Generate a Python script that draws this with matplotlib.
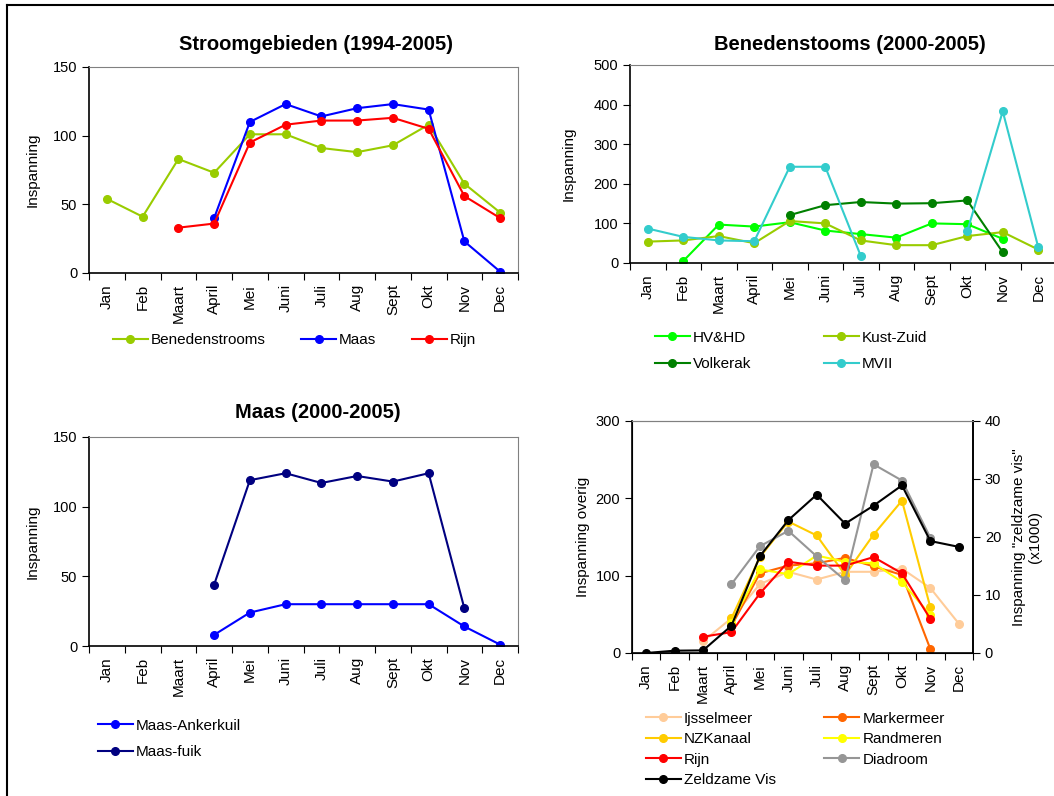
import numpy as np
import matplotlib
matplotlib.use("Agg")
import matplotlib.pyplot as plt
from matplotlib.lines import Line2D

plt.rcParams['font.family'] = ['Liberation Sans', 'DejaVu Sans']
plt.rcParams['font.size'] = 10

nan = np.nan
months = ['Jan', 'Feb', 'Maart', 'April', 'Mei', 'Juni', 'Juli', 'Aug', 'Sept', 'Okt', 'Nov', 'Dec']

# Stroomgebieden (1994-2005)
benedenstrooms = [54, 41, 83, 73, 101, 101, 91, 88, 93, 108, 65, 44]
maas = [nan, nan, nan, 40, 110, 123, 114, 120, 123, 119, 23, 1]
rijn = [nan, nan, 33, 36, 95, 108, 111, 111, 113, 105, 56, 40]

# Benedenstooms (2000-2005)
hvhd = [nan, 5, 97, 92, 103, 82, 73, 64, 100, 98, 61, nan]
kust_zuid = [54, 57, 68, 50, 106, 100, 57, 45, 45, 68, 78, 34]
volkerak = [nan, nan, nan, nan, 121, 146, 154, 150, 151, 158, 27, nan]
mvii = [87, 66, 57, 55, 243, 243, 18, nan, nan, 80, 383, 40]

# Maas (2000-2005)
maas_ankerkuil = [nan, nan, nan, 8, 24, 30, 30, 30, 30, 30, 14, 1]
maas_fuik = [nan, nan, nan, 44, 119, 124, 117, 122, 118, 124, 27, nan]

# overig
ijsselmeer = [nan, nan, 15, 45, 89, 105, 95, 105, 105, 109, 84, 38]
markermeer = [nan, nan, nan, 35, 103, 113, 116, 123, 112, 101, 5, nan]
nzkanaal = [nan, nan, nan, 45, 124, 170, 152, 101, 153, 197, 59, nan]
randmeren = [nan, nan, nan, 39, 108, 102, 126, 118, 116, 92, 49, nan]
rijn2 = [nan, nan, 21, 27, 77, 118, 113, 113, 124, 103, 44, nan]
diadroom = [nan, nan, nan, 89, 138, 158, 125, 94, 244, 223, 149, nan]
zeldzame = [0, 0.4, 0.45, 4.7, 16.7, 22.9, 27.3, 22.3, 25.4, 28.9, 19.3, 18.3]

W, H = 1054, 796
fig = plt.figure(figsize=(W / 100, H / 100), dpi=100)


def box(l, t, r, b):
    return [l / W, 1 - b / H, (r - l) / W, (b - t) / H]


def fx(px):
    return px / W


def fy(py):
    return 1 - py / H


def style(ax, ymax, ystep):
    x = np.arange(12)
    ax.set_xlim(-0.5, 11.5)
    ax.set_ylim(0, ymax)
    ax.set_yticks(np.arange(0, ymax + 1, ystep))
    ax.set_xticks(np.arange(-0.5, 12, 1))
    ax.set_xticklabels([])
    ax.set_xticks(x, minor=True)
    ax.set_xticklabels(months, minor=True, rotation=90, fontsize=11)
    ax.tick_params(axis='x', which='major', length=5, direction='out', width=0.8)
    ax.tick_params(axis='x', which='minor', length=0, pad=8)
    ax.tick_params(axis='y', length=5, width=0.8, labelsize=10.5)
    for s in ['top', 'right']:
        ax.spines[s].set_color('#808080')
    for s in ['left', 'bottom']:
        ax.spines[s].set_linewidth(1.2)


def line(ax, y, c, label):
    return ax.plot(np.arange(12), y, '-o', color=c, lw=1.5, ms=5.5, label=label)[0]


leg_kw = dict(frameon=False, fontsize=11, handlelength=2.3, handletextpad=0.2)
title_kw = dict(fontsize=14.5, fontweight='bold', ha='center', va='center')

# panel 1
ax1 = fig.add_axes(box(89, 67, 518, 273))
style(ax1, 150, 50)
h = [line(ax1, benedenstrooms, '#99CC00', 'Benedenstrooms'),
     line(ax1, maas, '#0000FF', 'Maas'),
     line(ax1, rijn, '#FF0000', 'Rijn')]
ax1.set_ylabel('Inspanning', fontsize=11, labelpad=9)
fig.text(fx(316), fy(44), 'Stroomgebieden (1994-2005)', **title_kw)
fig.legend(handles=h, ncol=3, loc='center left', bbox_to_anchor=(fx(99), fy(340)),
           columnspacing=2.3, **leg_kw)

# panel 2
ax2 = fig.add_axes(box(630, 65, 1056, 263))
style(ax2, 500, 100)
l_hv = line(ax2, hvhd, '#00FF00', 'HV&HD')
l_kz = line(ax2, kust_zuid, '#99CC00', 'Kust-Zuid')
l_vk = line(ax2, volkerak, '#008000', 'Volkerak')
l_mv = line(ax2, mvii, '#33CCCC', 'MVII')
ax2.set_ylabel('Inspanning', fontsize=11, labelpad=13)
fig.text(fx(850), fy(44), 'Benedenstooms (2000-2005)', **title_kw)
fig.legend(handles=[l_hv, l_vk, l_kz, l_mv], ncol=2, loc='center left',
           bbox_to_anchor=(fx(641), fy(351)), columnspacing=4.75, labelspacing=0.85, **leg_kw)

# panel 3
ax3 = fig.add_axes(box(89, 437, 518, 646))
style(ax3, 150, 50)
h = [line(ax3, maas_ankerkuil, '#0000FF', 'Maas-Ankerkuil'),
     line(ax3, maas_fuik, '#000080', 'Maas-fuik')]
ax3.set_ylabel('Inspanning', fontsize=11, labelpad=9)
fig.text(fx(318), fy(412), 'Maas (2000-2005)', **title_kw)
fig.legend(handles=h, ncol=1, loc='center left', bbox_to_anchor=(fx(84), fy(739)),
           labelspacing=0.85, **leg_kw)

# panel 4
ax4 = fig.add_axes(box(632, 421, 973, 653))
style(ax4, 300, 100)
ax4.spines['right'].set_color('black')
ax4.spines['right'].set_linewidth(1.2)
l_ij = line(ax4, ijsselmeer, '#FFCC99', 'Ijsselmeer')
l_mm = line(ax4, markermeer, '#FF6600', 'Markermeer')
l_nz = line(ax4, nzkanaal, '#FFCC00', 'NZKanaal')
l_rm = line(ax4, randmeren, '#FFFF00', 'Randmeren')
l_rj = line(ax4, rijn2, '#FF0000', 'Rijn')
l_dd = line(ax4, diadroom, '#969696', 'Diadroom')
ax4.set_ylabel('Inspanning overig', fontsize=11)
ax4b = ax4.twinx()
ax4b.set_ylim(0, 40)
ax4b.set_yticks([0, 10, 20, 30, 40])
ax4b.tick_params(axis='y', length=5, width=0.8, labelsize=10.5)
ax4b.spines['right'].set_linewidth(1.2)
ax4b.spines['top'].set_color('#808080')
l_zv = line(ax4b, zeldzame, '#000000', 'Zeldzame Vis')
ax4b.set_ylabel('Inspanning "zeldzame vis"\n(x1000)', fontsize=11, labelpad=8)
fig.legend(handles=[l_ij, l_nz, l_rj, l_zv, l_mm, l_rm, l_dd], ncol=2, loc='upper left',
           bbox_to_anchor=(fx(632), fy(698)), columnspacing=3.15, labelspacing=0.42, **leg_kw)

# figure border (top and left)
fig.add_artist(Line2D([fx(7), 1], [fy(5), fy(5)], color='black', lw=1.5))
fig.add_artist(Line2D([fx(7), fx(7)], [0, fy(5)], color='black', lw=1.5))

fig.savefig('out.png', dpi=100)
